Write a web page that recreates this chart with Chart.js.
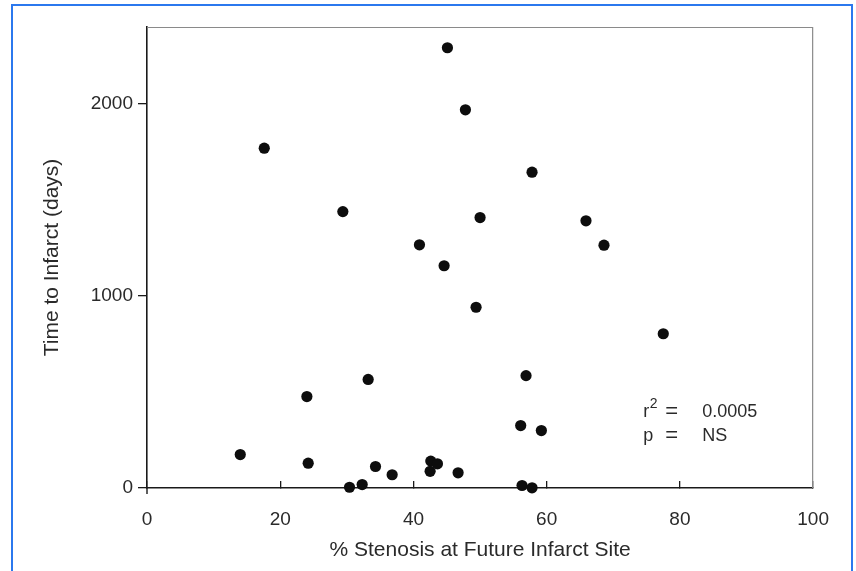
<!DOCTYPE html>
<html>
<head>
<meta charset="utf-8">
<script src="https://cdn.jsdelivr.net/npm/chart.js@4.4.1/dist/chart.umd.min.js"></script>
<style>
html,body{margin:0;padding:0;background:#fff;overflow:hidden;width:856px;height:571px;}
#frame{position:absolute;left:11px;top:4px;width:842px;height:640px;border:2px solid #2b78ee;box-sizing:border-box;pointer-events:none;}
#c{position:absolute;left:0;top:0;}
</style>
</head>
<body>
<canvas id="c" width="856" height="571"></canvas>
<div id="frame"></div>
<script>
// ---- data ----
const stenosisPct = [45.1, 47.8, 17.6, 57.8, 29.4, 50.0, 65.9, 40.9, 68.6, 44.6,
                     49.4, 77.5, 56.9, 33.2, 24.0, 56.1, 59.2, 14.0, 24.2, 34.3,
                     36.8, 42.6, 43.6, 42.5, 46.7, 30.4, 32.3, 56.3, 57.8];
const daysToInfarct = [2292, 1969, 1769, 1644, 1439, 1408, 1391, 1266, 1264, 1157,
                       941, 803, 585, 565, 476, 325, 299, 174, 129, 112,
                       69, 140, 126, 87, 79, 4, 18, 13, 1];
const xTicks = [0, 20, 40, 60, 80, 100];
const yTicks = [0, 1000, 2000];
const xTitle = '% Stenosis at Future Infarct Site';
const yTitle = 'Time to Infarct (days)';
const statLines = [
  {sym: 'r', sup: '2', eq: '=', val: '0.0005'},
  {sym: 'p', sup: '',  eq: '=', val: 'NS'}
];

const FONT = "'Liberation Sans', Arial, Helvetica, sans-serif";
const TXT = '#2a2a2a';

const points = stenosisPct.map((x, i) => ({x: x, y: daysToInfarct[i]}));

const framePlugin = {
  id: 'framePlugin',
  beforeDatasetsDraw(chart) {
    const {ctx, chartArea: a} = chart;
    ctx.save();
    ctx.strokeStyle = '#8a8a8a';
    ctx.lineWidth = 1.2;
    ctx.beginPath();
    ctx.moveTo(a.left, a.top + 0.5);
    ctx.lineTo(a.right - 0.5, a.top + 0.5);
    ctx.lineTo(a.right - 0.5, a.bottom);
    ctx.stroke();
    // short extension of the y axis below the origin
    ctx.strokeStyle = '#1a1a1a';
    ctx.lineWidth = 1.4;
    ctx.beginPath();
    ctx.moveTo(a.left, a.bottom);
    ctx.lineTo(a.left, a.bottom + 6);
    ctx.stroke();
    ctx.restore();
  },
  afterDatasetsDraw(chart) {
    const {ctx, scales} = chart;
    const x0 = scales.x.getPixelForValue(74.5);
    const rowsY = [398, 272].map(v => scales.y.getPixelForValue(v));
    ctx.save();
    ctx.fillStyle = TXT;
    ctx.textBaseline = 'middle';
    ctx.textAlign = 'left';
    statLines.forEach((ln, i) => {
      const y = rowsY[i];
      ctx.font = '18px ' + FONT;
      ctx.fillText(ln.sym, x0, y);
      const w = ctx.measureText(ln.sym).width;
      if (ln.sup) {
        ctx.font = '14px ' + FONT;
        ctx.fillText(ln.sup, x0 + w + 0.5, y - 7);
      }
      ctx.font = '22px ' + FONT;
      ctx.fillText(ln.eq, x0 + 22, y);
      ctx.font = '18px ' + FONT;
      ctx.fillText(ln.val, x0 + 59, y);
    });
    ctx.restore();
  }
};

new Chart(document.getElementById('c'), {
  type: 'scatter',
  data: {
    datasets: [{
      data: points,
      backgroundColor: '#0d0d0d',
      borderWidth: 0,
      pointRadius: 5.6,
      pointHoverRadius: 5.6,
      clip: false
    }]
  },
  options: {
    responsive: false,
    animation: false,
    events: [],
    layout: {padding: {left: 0, right: 41, top: 27, bottom: 0}},
    plugins: {legend: {display: false}, tooltip: {enabled: false}},
    scales: {
      x: {
        type: 'linear',
        min: 0, max: 100,
        afterBuildTicks: s => { s.ticks = xTicks.map(v => ({value: v})); },
        afterFit: s => { s.height = 83; },
        border: {display: true, color: '#1a1a1a', width: 1.6},
        grid: {drawOnChartArea: false, drawTicks: true, tickLength: -7, color: '#1a1a1a', lineWidth: 1.3},
        ticks: {padding: 27, color: TXT, font: {family: FONT, size: 19}, maxRotation: 0,
                callback: v => String(v)},
        title: {display: true, text: xTitle, color: TXT, font: {family: FONT, size: 21}, padding: {top: 0, bottom: 8}}
      },
      y: {
        type: 'linear',
        min: 0, max: 2400,
        afterBuildTicks: s => { s.ticks = yTicks.map(v => ({value: v})); },
        afterFit: s => { s.width = 147; },
        border: {display: true, color: '#1a1a1a', width: 1.6},
        grid: {drawOnChartArea: false, drawTicks: true, tickLength: 9, color: '#1a1a1a', lineWidth: 1.3},
        ticks: {padding: 5, color: TXT, font: {family: FONT, size: 19}, callback: v => String(v)},
        title: {display: true, text: yTitle, color: TXT, font: {family: FONT, size: 21}, padding: {top: 40, bottom: 0}}
      }
    }
  },
  plugins: [framePlugin]
});
</script>
</body>
</html>
